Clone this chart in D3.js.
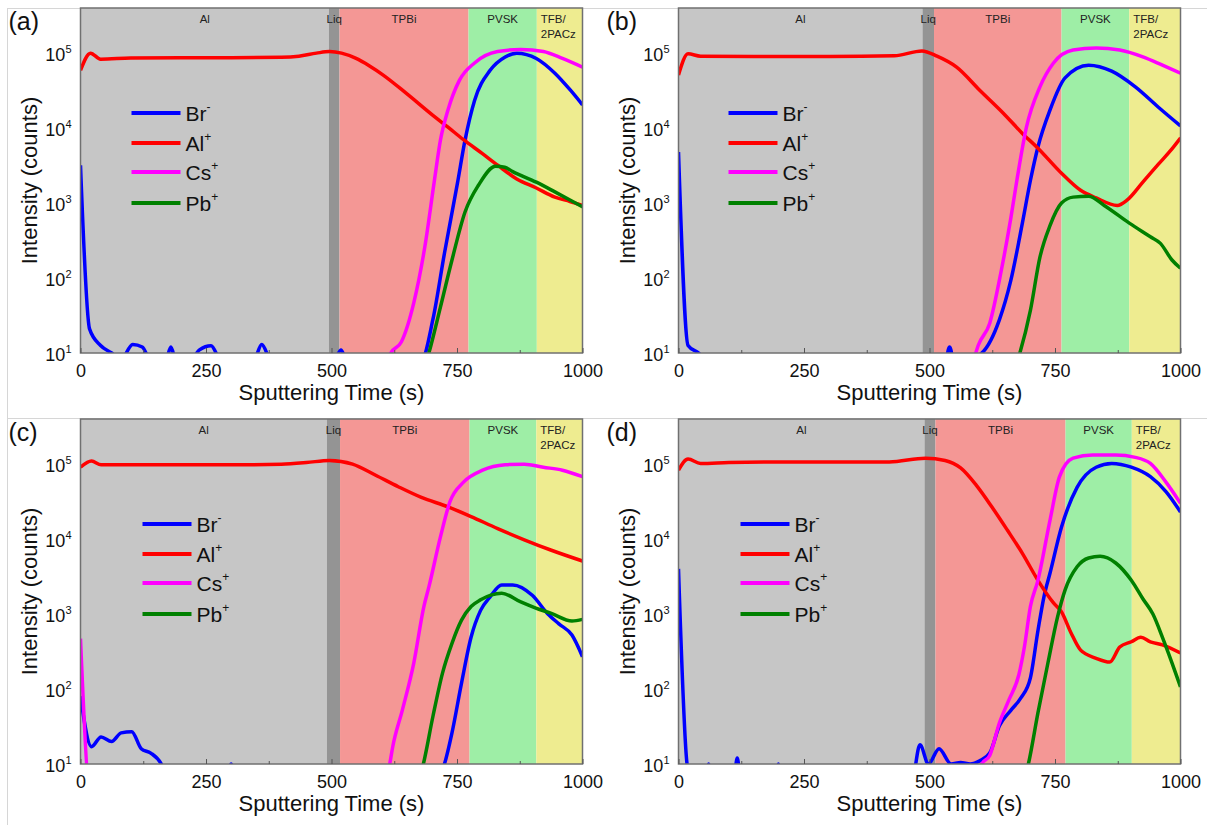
<!DOCTYPE html>
<html>
<head>
<meta charset="utf-8">
<script src="https://cdn.jsdelivr.net/npm/d3@7"></script>
<style>
body { margin: 0; background: #fff; }
svg { display: block; font-family: "Liberation Sans", Arial, sans-serif; }
</style>
</head>
<body>
<script>
// ---- data (time in s, intensity in counts) ----
var xTicks = [0, 250, 500, 750, 1000];
var xMinor = [125, 375, 625, 875];
var yExps = [1, 2, 3, 4, 5];
var layerNames = ["Al", "Liq", "TPBi", "PVSK", "TFB/2PACz"];
var layerColors = ["#c6c6c6", "#949494", "#f49795", "#9eeea6", "#eeec90"];
var ionNames = ["Br", "Al", "Cs", "Pb"];
var ionCharges = ["-", "+", "+", "+"];
var ionColors = ["#0000ff", "#ff0000", "#ff00ff", "#008000"];

// layer edges for each panel
var edgesA = [0, 495, 516, 773, 909, 1000];
var edgesB = [0, 486, 509, 763, 898, 1000];
var edgesC = [0, 491, 517, 775, 908, 1000];
var edgesD = [0, 490, 512, 771, 903, 1000];

// panel (a)
var brA = [[0,3200],[18,21],[40,12.6],[62,10],[80,8],[104,13],[123,12],[140,8],[170,8],[180,12],[190,8],[225,9],[237,11],[260,12.5],[280,8],[345,8],[361,13],[380,8],[505,8],[519,11],[530,8],[679,8],[702,28],[725,214],[751,1860],[766,6900],[785,23400],[816,59000],[846,89000],[869,100000],[908,85000],[945,54000],[976,32000],[1000,20400]];
var alA = [[0,59000],[20,100000],[40,83000],[100,86000],[200,87000],[300,87000],[400,88000],[435,91000],[470,100000],[496,105000],[520,100000],[549,85000],[575,68000],[603,51000],[648,29500],[702,14800],[732,10300],[763,7000],[800,4600],[831,3200],[869,2100],[907,1600],[945,1200],[975,1050],[1000,930]];
var csA = [[600,5],[618,10],[639,14],[664,47],[686,263],[705,2000],[717,6900],[732,17400],[755,43600],[785,74000],[831,105000],[877,112000],[922,105000],[960,85000],[1000,65000]];
var pbA = [[680,5],[694,10],[717,41],[740,174],[766,760],[793,1740],[827,3100],[845,3000],[861,2630],[908,1900],[945,1410],[975,1100],[1000,890]];

// panel (b)
var brB = [[0,4800],[19,12.6],[40,10],[60,7],[530,7],[540,12],[550,7],[604,10],[639,27.5],[662,93],[685,540],[701,2000],[716,5600],[740,17400],[770,46800],[817,69000],[863,57500],[910,35500],[956,19000],[1000,10700]];
var alB = [[0,51000],[19,98000],[44,91000],[150,90000],[300,90000],[430,92000],[485,107000],[515,91000],[554,65000],[600,32000],[647,15800],[685,8500],[716,5400],[763,2500],[801,1480],[832,1170],[874,930],[894,1100],[925,1900],[956,3300],[980,5000],[1000,7400]];
var csB = [[580,5],[597,12.6],[620,25],[643,126],[662,630],[674,2000],[693,10200],[720,35500],[747,74000],[786,110000],[832,117000],[879,110000],[925,89000],[964,69000],[1000,54000]];
var pbB = [[665,5],[680,10],[701,37],[720,190],[740,500],[763,1000],[786,1200],[817,1230],[848,930],[898,540],[940,355],[960,290],[983,174],[1000,135]];

// panel (c)
var brC = [[0,80],[22,17],[41,23],[62,20],[81,26],[102,27],[121,16],[140,14],[161,10],[175,6],[290,6],[300,10],[310,6],[710,6],[725,10],[740,26],[759,120],[778,490],[797,1120],[816,1700],[839,2450],[861,2450],[900,1780],[930,1020],[953,740],[979,525],[1000,270]];
var alC = [[0,91000],[22,110000],[41,98000],[100,98000],[200,98000],[300,98000],[400,100000],[450,105000],[496,112000],[542,100000],[588,71000],[633,50000],[679,36000],[732,27000],[778,20000],[831,13800],[884,9800],[938,7100],[1000,5100]];
var csC = [[0,470],[20,4],[600,4],[616,10],[622,17],[641,52],[664,224],[684,1260],[694,2300],[717,10700],[736,31600],[763,57500],[801,83000],[846,98000],[884,100000],[922,91000],[960,83000],[1000,68000]];
var pbC = [[665,4],[683,10],[702,43],[721,162],[740,407],[759,830],[778,1260],[797,1550],[839,1900],[877,1450],[907,1200],[938,1020],[979,810],[1000,850]];

// panel (d)
var brD = [[0,4000],[17,10],[25,6],[55,6],[60,10],[65,6],[110,6],[117,12],[124,6],[195,6],[199,10],[203,6],[465,6],[481,18],[498,10],[519,16],[543,10],[562,10.5],[581,10],[600,11],[620,14],[639,32],[662,52],[682,76],[701,141],[716,600],[728,1700],[740,3500],[763,14500],[794,49000],[832,91000],[863,102000],[902,91000],[940,68000],[971,43000],[1000,23000]];
var alD = [[0,83000],[19,117000],[44,102000],[100,105000],[200,107000],[300,107000],[420,107000],[492,120000],[531,112000],[562,89000],[593,52500],[624,27000],[655,13200],[685,6460],[716,2820],[747,1410],[763,1070],[782,560],[801,330],[832,257],[859,229],[879,363],[902,427],[921,490],[940,427],[964,389],[1000,302]];
var csD = [[590,5],[604,10],[620,13],[639,35],[658,71],[678,155],[689,363],[701,1260],[716,2820],[740,17800],[759,68000],[786,120000],[825,132000],[871,132000],[910,123000],[940,102000],[971,57500],[1000,30000]];
var pbD = [[680,4],[697,10],[716,48],[736,224],[755,910],[770,2090],[794,4270],[817,5600],[840,5900],[871,4800],[902,2820],[925,1600],[945,1000],[964,490],[983,224],[1000,107]];

// ---- layout ----
var pw = 502, ph = 345;
var panels = [
    {label: "(a)", left: 80.5, top: 8, edges: edgesA, series: [brA, alA, csA, pbA], legX: 51},
    {label: "(b)", left: 678.5, top: 8, edges: edgesB, series: [brB, alB, csB, pbB], legX: 50},
    {label: "(c)", left: 80.5, top: 419, edges: edgesC, series: [brC, alC, csC, pbC], legX: 62},
    {label: "(d)", left: 678.5, top: 419, edges: edgesD, series: [brD, alD, csD, pbD], legX: 62}
];
var legRows = [105, 135, 164, 195];

var svg = d3.select("body").append("svg").attr("width", 1207).attr("height", 825);

// faint page border lines
svg.append("line").attr("x1", 8).attr("x2", 1207).attr("y1", 8.5).attr("y2", 8.5).attr("stroke", "#d6d6d6");
svg.append("line").attr("x1", 8).attr("x2", 1207).attr("y1", 418.5).attr("y2", 418.5).attr("stroke", "#d6d6d6");
svg.append("line").attr("x1", 7.5).attr("x2", 7.5).attr("y1", 8).attr("y2", 825).attr("stroke", "#d6d6d6");

var x = d3.scaleLinear().domain([0, 1000]).range([0, pw]);
var y = d3.scaleLog().domain([10, 4e5]).range([ph, 0]);

panels.forEach(function (p, pi) {
    var g = svg.append("g").attr("transform", "translate(" + p.left + "," + p.top + ")");

    g.append("clipPath").attr("id", "clip" + pi)
        .append("rect").attr("x", 0).attr("y", 0).attr("width", pw).attr("height", ph);

    // layer bands
    layerNames.forEach(function (name, i) {
        g.append("rect")
            .attr("x", x(p.edges[i]))
            .attr("y", 0)
            .attr("width", x(p.edges[i + 1]) - x(p.edges[i]))
            .attr("height", ph)
            .attr("fill", layerColors[i]);
    });

    // layer labels
    layerNames.forEach(function (name, i) {
        var cx = (x(p.edges[i]) + x(p.edges[i + 1])) / 2;
        if (name.indexOf("/") > 0) {
            var parts = name.split("/");
            var t = g.append("text").attr("x", x(p.edges[i]) + 4).attr("y", 15)
                .attr("font-size", 11.5).attr("fill", "#222");
            t.append("tspan").attr("x", x(p.edges[i]) + 4).attr("y", 15).text(parts[0] + "/");
            t.append("tspan").attr("x", x(p.edges[i]) + 4).attr("y", 30).text(parts[1]);
        } else {
            g.append("text").attr("x", cx).attr("y", 15)
                .attr("text-anchor", "middle").attr("font-size", 11.5).attr("fill", "#222")
                .text(name);
        }
    });

    // series
    var line = d3.line()
        .x(function (d) { return x(d[0]); })
        .y(function (d) { return y(d[1]); })
        .curve(d3.curveMonotoneX);
    var lines = g.append("g").attr("clip-path", "url(#clip" + pi + ")");
    p.series.forEach(function (s, i) {
        lines.append("path")
            .attr("d", line(s))
            .attr("fill", "none")
            .attr("stroke", ionColors[i])
            .attr("stroke-width", 3.5)
            .attr("stroke-linejoin", "round");
    });

    // frame
    g.append("rect").attr("x", 0).attr("y", 0).attr("width", pw).attr("height", ph)
        .attr("fill", "none").attr("stroke", "#707070").attr("stroke-width", 1.5);

    // x axis
    var xa = g.append("g").attr("transform", "translate(0," + ph + ")")
        .call(d3.axisBottom(x).tickValues(xTicks).tickSize(-5).tickPadding(11).tickFormat(d3.format("d")));
    xa.select(".domain").remove();
    xa.selectAll("line").attr("stroke", "#555");
    xa.selectAll("text").attr("font-size", 18).attr("font-family", "Liberation Sans, Arial, sans-serif").attr("fill", "#111");
    var xm = g.append("g").attr("transform", "translate(0," + ph + ")")
        .call(d3.axisBottom(x).tickValues(xMinor).tickSize(-3).tickFormat(""));
    xm.select(".domain").remove();
    xm.selectAll("line").attr("stroke", "#555");

    // y tick labels 10^n
    yExps.forEach(function (e) {
        var t = g.append("text")
            .attr("x", -9)
            .attr("y", y(Math.pow(10, e)) + 8)
            .attr("text-anchor", "end")
            .attr("font-size", 18).attr("fill", "#111");
        t.append("tspan").text("10");
        t.append("tspan").attr("dy", -8).attr("font-size", 11).text(e);
    });

    // axis titles
    g.append("text").attr("x", pw / 2).attr("y", ph + 47)
        .attr("text-anchor", "middle").attr("font-size", 22).attr("fill", "#111")
        .text("Sputtering Time (s)");
    g.append("text")
        .attr("transform", "translate(-44," + (ph / 2) + ") rotate(-90)")
        .attr("text-anchor", "middle").attr("font-size", 22).attr("fill", "#111")
        .text("Intensity (counts)");

    // panel label
    svg.append("text").attr("x", p.left - 72).attr("y", p.top + 22)
        .attr("font-size", 25).attr("fill", "#111").text(p.label);

    // legend
    ionNames.forEach(function (n, i) {
        var ly = legRows[i];
        g.append("line").attr("x1", p.legX).attr("x2", p.legX + 49)
            .attr("y1", ly).attr("y2", ly)
            .attr("stroke", ionColors[i]).attr("stroke-width", 4);
        var t = g.append("text").attr("x", p.legX + 54).attr("y", ly + 8)
            .attr("font-size", 21).attr("fill", "#111");
        t.append("tspan").text(n);
        t.append("tspan").attr("dy", -10).attr("font-size", 12).text(ionCharges[i]);
    });
});
</script>
</body>
</html>
